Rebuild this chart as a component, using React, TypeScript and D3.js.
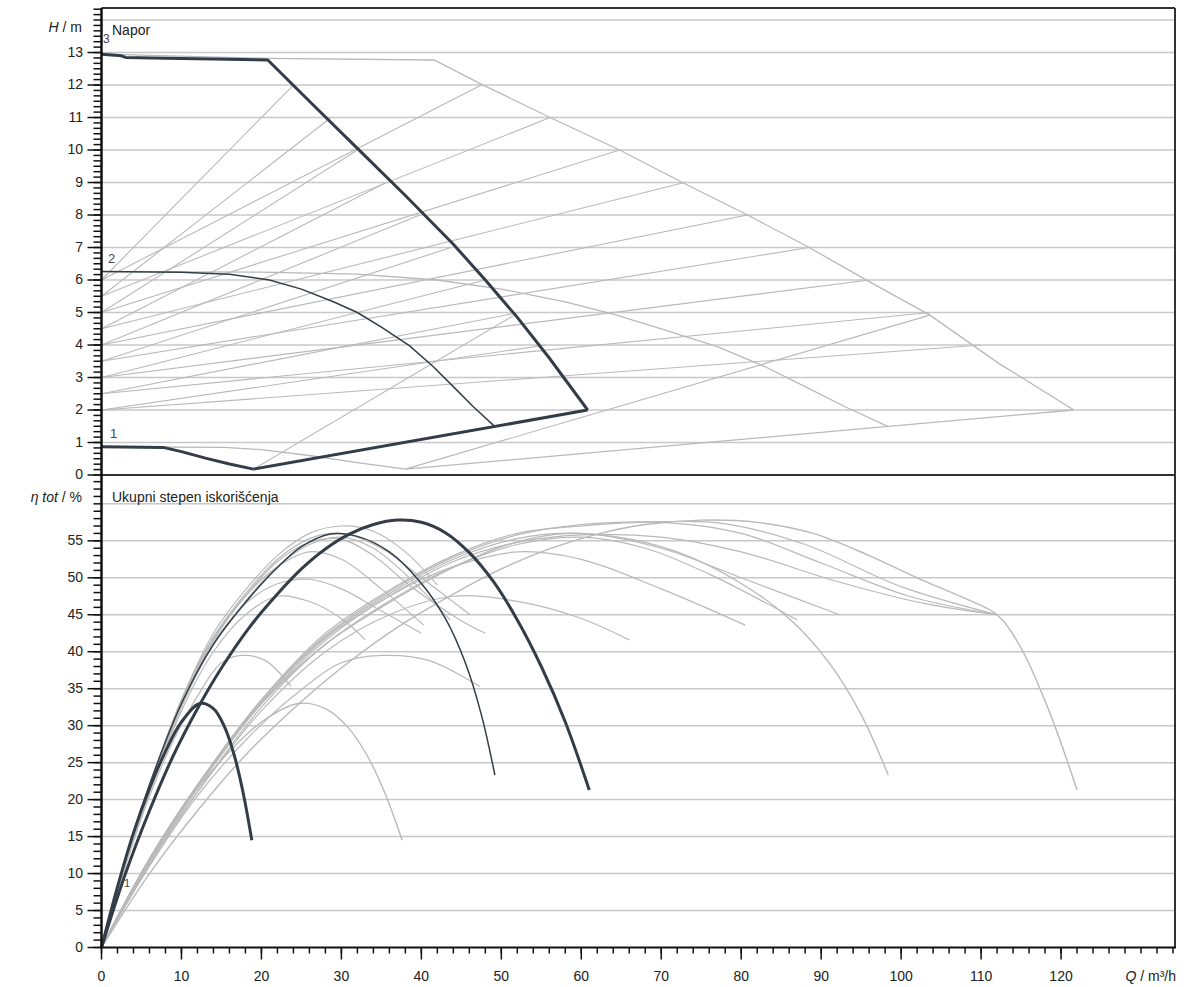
import React from 'react';
import * as d3 from 'd3';

type P = [number, number];

// ---------- axis ticks ----------
const qMajorTicks = [0, 10, 20, 30, 40, 50, 60, 70, 80, 90, 100, 110, 120];
const hMajorTicks = [0, 1, 2, 3, 4, 5, 6, 7, 8, 9, 10, 11, 12, 13];
const hGridLines = [1, 2, 3, 4, 5, 6, 7, 8, 9, 10, 11, 12, 13, 14];
const etaMajorTicks = [0, 5, 10, 15, 20, 25, 30, 35, 40, 45, 50, 55];
const etaGridLines = [5, 10, 15, 20, 25, 30, 35, 40, 45, 50, 55, 60];

// ---------- head curves (Q m3/h, H m) ----------
const headMax: P[] = [[0, 12.95], [2.5, 12.9], [3, 12.85], [8, 12.82], [14, 12.8], [20.8, 12.77], [26, 11.5], [32, 10.05], [38, 8.6], [44, 7.1], [48, 6.0], [52, 4.85], [56, 3.6], [60.8, 2.0]];
const headMinLine: P[] = [[19, 0.18], [60.8, 2.0]];
const headMin: P[] = [[0, 0.87], [7.7, 0.85], [10, 0.72], [13, 0.52], [16, 0.34], [19, 0.18]];
const headMid: P[] = [[0, 6.26], [10, 6.24], [16, 6.18], [21, 6.0], [25, 5.72], [29, 5.33], [32, 5.0], [35, 4.55], [38.5, 3.98], [41.5, 3.33], [44, 2.72], [46.5, 2.1], [49.2, 1.49]];

const headDblMax: P[] = [[0, 12.95], [20.8, 12.82], [41.6, 12.77], [47.3, 12.05], [56.1, 11.0], [64.8, 10.0], [72.9, 8.97], [80.8, 8.0], [88.5, 7.0], [96, 5.95], [103.6, 4.92], [112.3, 3.42], [121.6, 2.0]];
const headDblMinLine: P[] = [[38, 0.18], [121.6, 2.0]];
const headDblMin: P[] = [[0, 0.87], [15.4, 0.85], [20, 0.78], [26, 0.6], [32, 0.38], [38, 0.18]];
const headDblMid: P[] = [[0, 6.26], [20, 6.24], [32, 6.18], [42, 6.0], [50, 5.72], [58, 5.33], [64, 4.95], [70, 4.5], [77, 3.95], [83, 3.33], [88, 2.72], [93, 2.1], [98.4, 1.49]];

// Δp-v control lines: start head at Q=0, set head, end flow (single / double)
const dpvStartH = [6, 5.5, 5, 4.5, 4, 3.5, 3, 2.5, 2];
const dpvSetH = [12, 11, 10, 9, 8, 7, 6, 5, 4];
const dpvSingleEndQ = [24.0, 28.7, 32.0, 35.6, 39.8, 43.7, 48.0, 52.2, 55.6];
const dpvDoubleEndQ = [47.5, 56.1, 64.8, 72.9, 80.8, 88.5, 96, 103.6, 110];
const extraLines: P[][] = [
  [[19, 0.18], [51.5, 4.9]],
  [[38, 0.18], [103.6, 4.92]],
];

// ---------- efficiency curves (Q m3/h, eta %) ----------
const effMax: P[] = [[0, 0], [3, 10], [6, 18.5], [9, 26], [12, 32.3], [15, 37.8], [18.5, 43.3], [22, 47.8], [25, 51.2], [28, 53.9], [31, 55.9], [34, 57.2], [37, 57.8], [40, 57.5], [43, 56.1], [46, 53.4], [49, 49.5], [52, 44.3], [55, 38], [58, 30.5], [61, 21.3]];
const effMid: P[] = [[0, 0], [3, 12], [6, 22], [10, 33], [14, 41], [18.5, 47.3], [22, 51.4], [25, 54.2], [28.5, 55.9], [32, 55.6], [36, 53.5], [39.8, 49.5], [43, 44.5], [45.5, 38.5], [47.5, 31.5], [49.2, 23.3]];
const effMin: P[] = [[0, 0], [2, 8.2], [4, 15.5], [6, 21.5], [8, 26.5], [10, 30.5], [12.3, 33], [14, 32.3], [15.4, 29.8], [16.6, 26], [17.7, 21], [18.8, 14.5]];

const effDblMax: P[] = [[0, 0], [6, 10], [12, 18.5], [18, 26], [24, 32.3], [30, 37.8], [37, 43.3], [44, 47.8], [50, 51.2], [56, 53.9], [62, 55.9], [68, 57.2], [75, 57.8], [82, 57.5], [89, 56], [96, 53], [103, 49.5], [108, 47.2], [112, 45], [115, 40.5], [118.5, 32], [122, 21.3]];
const effDblMid: P[] = [[0, 0], [6, 12], [12, 22], [20, 33], [28, 41], [37, 47.3], [44, 51.4], [50, 54.2], [57, 55.9], [64, 55.6], [72, 53.5], [79.6, 49.5], [86, 44.5], [91, 38.5], [95, 31.5], [98.4, 23.3]];
const effDblMin: P[] = [[0, 0], [4, 8.2], [8, 15.5], [12, 21.5], [16, 26.5], [20, 30.5], [24.6, 33], [28, 32.3], [30.8, 29.8], [33.2, 26], [35.4, 21], [37.6, 14.5]];

const effSingleGray: P[][] = [
  [[0, 0], [3, 11], [6, 20.5], [9, 28], [12, 34], [15, 38.5], [17.5, 39.5], [20.5, 38.8], [23.7, 35.3]],
  [[0, 0], [3, 11.5], [6, 21], [10, 32], [14, 40], [18, 45], [22, 47.5], [26, 46.8], [30, 44.5], [33, 41.6]],
  [[0, 0], [3, 11.5], [6, 21.5], [10, 33], [14, 41.5], [18, 47.5], [22, 51.5], [26, 53.5], [30, 52.5], [35, 48.5], [40.3, 43.6]],
  [[0, 0], [3, 11.8], [6, 21.8], [10, 33.5], [14, 42], [18.5, 48.5], [22, 52.5], [26, 55.3], [30, 56], [35, 54], [40, 50], [46.1, 45]],
  [[0, 0], [3, 12], [6, 22], [10, 33.5], [14, 42.5], [18.5, 49], [22, 53], [26, 56], [30, 57], [34, 56.3], [38, 53.5], [42, 49]],
  [[0, 0], [3, 11.2], [6, 21], [10, 32.5], [14, 41], [18.5, 47.5], [22, 51.5], [26, 54.5], [30, 55.5], [34, 54], [38, 50.5], [43.6, 44.3]],
  [[0, 0], [3, 11.6], [6, 21.6], [10, 33.2], [14, 41.8], [18.5, 48.2], [22, 52.2], [26, 54.8], [30, 55.2], [34, 53], [38.5, 49], [45, 44.2], [48, 42.5]],
  [[0, 0], [3, 11.4], [6, 21.2], [10, 32.8], [14, 41.2], [18, 46.5], [22, 49.2], [26, 49.8], [30, 48.5], [35, 45.5], [40, 42.5]],
];
const effDoubleGray: P[][] = [
  [[0, 0], [6, 11], [12, 20.5], [18, 28], [24, 34], [30, 38.5], [35, 39.5], [41, 38.8], [47.3, 35.3]],
  [[0, 0], [6, 11.5], [12, 21], [20, 32], [28, 40], [36, 45], [44, 47.5], [52, 46.8], [60, 44.5], [66, 41.6]],
  [[0, 0], [6, 11.5], [12, 21.5], [20, 33], [28, 41.5], [36, 47.5], [44, 51.5], [52, 53.5], [60, 52.5], [70, 48.5], [80.5, 43.6]],
  [[0, 0], [6, 11.8], [12, 21.8], [20, 33.5], [28, 42], [37, 48.5], [44, 52.5], [52, 55.3], [60, 56], [70, 54], [80, 50], [92.3, 45]],
  [[0, 0], [6, 12], [12, 22], [20, 33.5], [28, 42.5], [37, 49], [44, 53], [52, 56], [60, 57], [70, 57.5], [80, 56], [90, 52], [101, 47.5], [112, 45]],
  [[0, 0], [6, 11.2], [12, 21], [20, 32.5], [28, 41], [37, 47.5], [44, 51.5], [52, 54.5], [60, 55.5], [68, 54], [76, 50.5], [87, 44.3]],
  [[0, 0], [6, 11.6], [12, 21.6], [20, 33.2], [28, 41.8], [37, 48.2], [44, 52.2], [52, 54.8], [60, 55.8], [70, 55.5], [80, 53.5], [92, 49.5], [103, 46.5], [112, 45]],
  [[0, 0], [6, 11.9], [12, 21.9], [20, 33.4], [28, 42.2], [37, 48.8], [44, 52.8], [52, 55.8], [60, 57.2], [70, 57.6], [78, 57.3], [88, 54.5], [100, 48.8], [112, 45]],
];

const DARK = '#333d48';
const GRAY = '#b9b9b9';
const GRID = '#c8c8c8';
const FONT = 'Liberation Sans, Arial, sans-serif';

export default function App() {
  const X0 = 101.5, X1 = 1175, YT = 8, YM = 475, YB = 947.5;
  const x = d3.scaleLinear().domain([0, 134.25]).range([X0, X1]);
  const yH = d3.scaleLinear().domain([0, 14.37]).range([YM, YT]);
  const yE = d3.scaleLinear().domain([0, 63.9]).range([YB, YM]);

  const lineH = d3.line<P>().x(d => x(d[0])).y(d => yH(d[1]));
  const smoothE = d3.line<P>().x(d => x(d[0])).y(d => yE(d[1])).curve(d3.curveCatmullRom.alpha(0.5));

  const qMinor = d3.range(0, 134.1, 2);
  const hMinor = d3.range(0, 14.37, 1 / 6);
  const eMinor = d3.range(0, 63.9, 1);

  const dpvLines: P[][] = [];
  dpvSetH.forEach((h, i) => {
    dpvLines.push([[0, dpvStartH[i]], [dpvSingleEndQ[i], h]]);
    dpvLines.push([[0, dpvStartH[i]], [dpvDoubleEndQ[i], h]]);
  });

  return (
    <svg width={1184} height={987} style={{ position: 'absolute', left: 0, top: 0, background: '#fff' }} fontFamily={FONT}>
      <rect x={0} y={0} width={1184} height={987} fill="#fff" />
      {/* grid */}
      {hGridLines.map(v => (
        <line key={'hg' + v} x1={X0} x2={X1} y1={yH(v)} y2={yH(v)} stroke={GRID} strokeWidth={1.5} />
      ))}
      {etaGridLines.map(v => (
        <line key={'eg' + v} x1={X0} x2={X1} y1={yE(v)} y2={yE(v)} stroke={GRID} strokeWidth={1.5} />
      ))}

      {/* top panel gray */}
      <g fill="none" stroke={GRAY} strokeWidth={1.1}>
        {dpvLines.map((l, i) => <path key={'dpv' + i} d={lineH(l) || ''} />)}
        {extraLines.map((l, i) => <path key={'ex' + i} d={lineH(l) || ''} />)}
        <path d={lineH(headDblMax) || ''} strokeWidth={1.3} />
        <path d={lineH(headDblMinLine) || ''} strokeWidth={1.3} />
        <path d={lineH(headDblMin) || ''} strokeWidth={1.3} />
        <path d={lineH(headDblMid) || ''} strokeWidth={1.3} />
      </g>
      {/* bottom panel gray */}
      <g fill="none" stroke={GRAY} strokeWidth={1.2}>
        {effSingleGray.map((c, i) => <path key={'sg' + i} d={smoothE(c) || ''} />)}
        {effDoubleGray.map((c, i) => <path key={'dg' + i} d={smoothE(c) || ''} />)}
        <path d={smoothE(effDblMax) || ''} strokeWidth={1.4} />
        <path d={smoothE(effDblMid) || ''} strokeWidth={1.4} />
        <path d={smoothE(effDblMin) || ''} strokeWidth={1.4} />
      </g>

      {/* dark curves */}
      <g fill="none" stroke={DARK} strokeLinejoin="round">
        <path d={lineH(headMax) || ''} strokeWidth={3} />
        <path d={lineH(headMinLine) || ''} strokeWidth={3} />
        <path d={lineH(headMin) || ''} strokeWidth={3} />
        <path d={lineH(headMid) || ''} strokeWidth={1.5} />
        <path d={smoothE(effMax) || ''} strokeWidth={3} />
        <path d={smoothE(effMid) || ''} strokeWidth={1.5} />
        <path d={smoothE(effMin) || ''} strokeWidth={3} />
      </g>

      {/* frame */}
      <line x1={X0} x2={X1} y1={YT} y2={YT} stroke="#333" strokeWidth={2} />
      <line x1={X1} x2={X1} y1={YT} y2={YB} stroke="#333" strokeWidth={2} />
      <line x1={X0} x2={X1} y1={YM} y2={YM} stroke="#333" strokeWidth={2} />
      <line x1={X0} x2={X1 + 1} y1={YB} y2={YB} stroke="#111" strokeWidth={2.2} />
      <line x1={X0} x2={X0} y1={YT} y2={YB + 1} stroke="#111" strokeWidth={2.5} />

      {/* ticks */}
      <g stroke="#111" strokeWidth={1.5}>
        {hMinor.map((v, i) => <line key={'hm' + i} x1={X0 - 8} x2={X0} y1={yH(v)} y2={yH(v)} />)}
        {hMajorTicks.map(v => <line key={'hM' + v} x1={X0 - 14} x2={X0} y1={yH(v)} y2={yH(v)} />)}
        {eMinor.map((v, i) => <line key={'em' + i} x1={X0 - 8} x2={X0} y1={yE(v)} y2={yE(v)} />)}
        {etaMajorTicks.map(v => <line key={'eM' + v} x1={X0 - 14} x2={X0} y1={yE(v)} y2={yE(v)} />)}
        {qMinor.map((v, i) => <line key={'qm' + i} x1={x(v)} x2={x(v)} y1={YB} y2={YB + 6} />)}
        {qMajorTicks.map(v => <line key={'qM' + v} x1={x(v)} x2={x(v)} y1={YB} y2={YB + 12} />)}
      </g>

      {/* tick labels */}
      <g fontSize={14} fill="#222">
        {hMajorTicks.map(v => (
          <text key={'hl' + v} x={83} y={yH(v) + 4} textAnchor="end">{v}</text>
        ))}
        {etaMajorTicks.map(v => (
          <text key={'el' + v} x={83} y={yE(v) + 4} textAnchor="end">{v}</text>
        ))}
        {qMajorTicks.map(v => (
          <text key={'ql' + v} x={x(v)} y={981} textAnchor="middle">{v}</text>
        ))}
      </g>

      {/* axis titles */}
      <text x={82} y={32} textAnchor="end" fontSize={14} fill="#222">
        <tspan fontStyle="italic">H</tspan> / m
      </text>
      <text x={82} y={502} textAnchor="end" fontSize={14} fill="#222">
        <tspan fontStyle="italic">η tot</tspan> / %
      </text>
      <text x={1176} y={981} textAnchor="end" fontSize={14} fill="#222">
        <tspan fontStyle="italic">Q</tspan> / m³/h
      </text>

      {/* panel titles and curve labels */}
      <text x={112} y={35} fontSize={14} fill="#222">Napor</text>
      <text x={112} y={502} fontSize={14} fill="#222">Ukupni stepen iskorišćenja</text>
      <text x={103} y={43} fontSize={12} fill="#445">3</text>
      <text x={108} y={263} fontSize={13} fill="#445">2</text>
      <text x={110} y={438} fontSize={13} fill="#445">1</text>
      <text x={124} y={887} fontSize={11} fill="#445">1</text>
    </svg>
  );
}
